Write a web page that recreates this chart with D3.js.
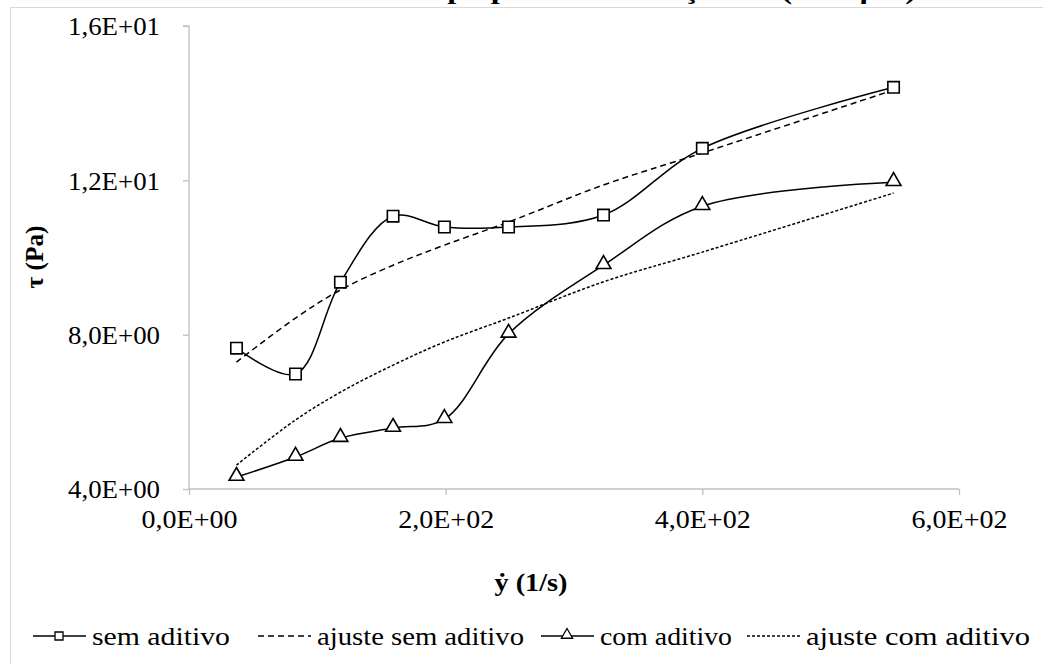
<!DOCTYPE html>
<html>
<head>
<meta charset="utf-8">
<script src="https://cdn.jsdelivr.net/npm/d3@7"></script>
<style>
  html, body { margin: 0; padding: 0; background: #fff; }
  svg { display: block; font-family: "Liberation Serif", "Times New Roman", serif; }
</style>
</head>
<body>
<svg id="chart" width="1043" height="664"></svg>
<script>
// Shear rate (1/s) at each measurement
const shearRate = [37, 83, 118, 159, 199, 249, 323, 400, 549];
// Shear stress (Pa), pulp without additive
const tauSemAditivo = [7.65, 6.98, 9.36, 11.07, 10.79, 10.79, 11.1, 12.83, 14.41];
// Fitted model, pulp without additive
const ajusteSemAditivo = [7.29, 8.43, 9.16, 9.80, 10.32, 10.92, 11.88, 12.71, 14.34];
// Shear stress (Pa), pulp with additive
const tauComAditivo = [4.31, 4.83, 5.32, 5.58, 5.81, 8.02, 9.80, 11.33, 11.95];
// Fitted model, pulp with additive
const ajusteComAditivo = [4.62, 5.79, 6.51, 7.21, 7.81, 8.43, 9.37, 10.14, 11.67];

const xTicks = [0, 200, 400, 600];
const yTicks = [4, 8, 12, 16];
const fmtX = ["0,0E+00", "2,0E+02", "4,0E+02", "6,0E+02"];
const fmtY = ["4,0E+00", "8,0E+00", "1,2E+01", "1,6E+01"];

const titleText = "Gráfico 4 - Curvas de fluxo das polpas com variação da (0 - 5 μm)";

const svg = d3.select("#chart");
const axisColor = "#bfbfbf";

const x = d3.scaleLinear().domain([0, 600]).range([189, 959]);
const y = d3.scaleLinear().domain([4, 16]).range([489, 26]);

// chart frame
svg.append("rect")
  .attr("x", 10.5).attr("y", 7.5)
  .attr("width", 1100).attr("height", 700)
  .attr("fill", "none").attr("stroke", "#d9d9d9").attr("stroke-width", 1);

// title (sits above the frame)
svg.append("text")
  .attr("x", 6).attr("y", -1.5)
  .attr("font-size", 26).attr("font-weight", "bold")
  .attr("textLength", 910).attr("lengthAdjust", "spacingAndGlyphs")
  .text(titleText);

// axes
const yAxis = d3.axisLeft(y).tickValues(yTicks).tickSize(6).tickFormat((d, i) => fmtY[i]);
const xAxis = d3.axisBottom(x).tickValues(xTicks).tickSize(6).tickFormat((d, i) => fmtX[i]);

const gy = svg.append("g").attr("transform", `translate(${x(0)},0)`).call(yAxis);
const gx = svg.append("g").attr("transform", `translate(0,${y(4)})`).call(xAxis);

[gx, gy].forEach(g => {
  g.select(".domain").attr("stroke", axisColor).attr("stroke-width", 1.3);
  g.selectAll(".tick line").attr("stroke", axisColor).attr("stroke-width", 1.3);
  g.selectAll(".tick text")
    .attr("font-family", "Liberation Serif, serif")
    .attr("font-size", 25).attr("fill", "#000")
    .attr("lengthAdjust", "spacingAndGlyphs");
});
gy.select(".domain").attr("d", `M-6,${y(16)}H0V${y(4)}`);
gx.select(".domain").attr("d", `M0,0H${x(600) - x(0)}`).attr("transform", `translate(${x(0)},0)`);
gy.selectAll(".tick text").attr("x", -29).attr("dy", "0.35em").attr("textLength", 92);
gx.selectAll(".tick text").attr("y", 21).attr("textLength", 96);

// axis titles
svg.append("text")
  .attr("transform", `translate(43,257) rotate(-90)`)
  .attr("text-anchor", "middle")
  .attr("font-size", 25).attr("font-weight", "bold")
  .attr("textLength", 63).attr("lengthAdjust", "spacingAndGlyphs")
  .text("τ (Pa)");
svg.append("text")
  .attr("x", 531).attr("y", 591)
  .attr("text-anchor", "middle")
  .attr("font-size", 25).attr("font-weight", "bold")
  .attr("textLength", 73).attr("lengthAdjust", "spacingAndGlyphs")
  .text("ẏ (1/s)");

const smooth = d3.line().x(d => x(d[0])).y(d => y(d[1])).curve(d3.curveCatmullRom.alpha(0.5));
const pairs = vals => shearRate.map((g, i) => [g, vals[i]]);

// fitted curves
svg.append("path").datum(pairs(ajusteSemAditivo))
  .attr("d", smooth).attr("fill", "none").attr("stroke", "#000")
  .attr("stroke-width", 1.5).attr("stroke-dasharray", "6,4");
svg.append("path").datum(pairs(ajusteComAditivo))
  .attr("d", smooth).attr("fill", "none").attr("stroke", "#000")
  .attr("stroke-width", 1.5).attr("stroke-dasharray", "3,2");

// measured curves
svg.append("path").datum(pairs(tauSemAditivo))
  .attr("d", smooth).attr("fill", "none").attr("stroke", "#000").attr("stroke-width", 1.5);
svg.append("path").datum(pairs(tauComAditivo))
  .attr("d", smooth).attr("fill", "none").attr("stroke", "#000").attr("stroke-width", 1.5);

const sq = d3.symbol().type(d3.symbolSquare).size(130);
const tri = d3.symbol().type(d3.symbolTriangle).size(95);

svg.append("g").selectAll("path").data(pairs(tauSemAditivo)).join("path")
  .attr("d", sq).attr("transform", d => `translate(${x(d[0])},${y(d[1])})`)
  .attr("fill", "#fff").attr("stroke", "#000").attr("stroke-width", 1.6);
svg.append("g").selectAll("path").data(pairs(tauComAditivo)).join("path")
  .attr("d", tri).attr("transform", d => `translate(${x(d[0])},${y(d[1]) - 1})`)
  .attr("fill", "#fff").attr("stroke", "#000").attr("stroke-width", 1.6);

// legend
const legendItems = [
  { label: "sem aditivo", x0: 33, w: 138, dash: null, marker: "square" },
  { label: "ajuste sem aditivo", x0: 258, w: 207, dash: "6,4", marker: null },
  { label: "com aditivo", x0: 541, w: 132, dash: null, marker: "triangle" },
  { label: "ajuste com aditivo", x0: 747, w: 224, dash: "3,2", marker: null }
];
const ly = 636;
const lg = svg.append("g");
legendItems.forEach(it => {
  lg.append("line").attr("x1", it.x0).attr("x2", it.x0 + 53)
    .attr("y1", ly).attr("y2", ly).attr("stroke", "#000").attr("stroke-width", 1.5)
    .attr("stroke-dasharray", it.dash);
  if (it.marker === "square") {
    lg.append("path").attr("d", d3.symbol().type(d3.symbolSquare).size(64))
      .attr("transform", `translate(${it.x0 + 26},${ly})`)
      .attr("fill", "#fff").attr("stroke", "#000").attr("stroke-width", 1.3);
  } else if (it.marker === "triangle") {
    lg.append("path").attr("d", d3.symbol().type(d3.symbolTriangle).size(55))
      .attr("transform", `translate(${it.x0 + 26},${ly - 1})`)
      .attr("fill", "#fff").attr("stroke", "#000").attr("stroke-width", 1.3);
  }
  lg.append("text").attr("x", it.x0 + 59).attr("y", ly + 9)
    .attr("font-size", 25)
    .attr("textLength", it.w).attr("lengthAdjust", "spacingAndGlyphs")
    .text(it.label);
});
</script>
</body>
</html>
